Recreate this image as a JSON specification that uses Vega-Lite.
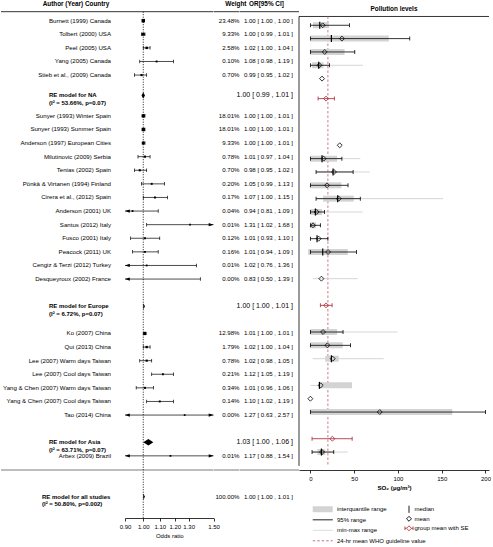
{
 "$schema": "https://vega.github.io/schema/vega-lite/v6.json",
 "padding": 0,
 "spacing": 0,
 "bounds": "flush",
 "config": {
  "view": {"stroke": null},
  "font": "Liberation Sans",
  "text": {"color": "black", "font": "Liberation Sans"},
  "axis": {"labelFont": "Liberation Sans", "titleFont": "Liberation Sans", "labelColor": "black", "titleColor": "black", "domainColor": "black", "tickColor": "black", "grid": false, "labelFontSize": 6, "titleFontSize": 6, "titleFontWeight": "normal", "tickSize": 3, "labelPadding": 2, "titlePadding": 3, "domainWidth": 0.8, "tickWidth": 0.8},
  "legend": {"labelFont": "Liberation Sans", "labelColor": "black", "labelFontSize": 6}
 },
 "datasets": {
  "one": [{}],
  "forest": [
   {"study": "Burnett (1999) Canada", "type": "study", "row": 1, "w": 23.48, "est": 1.00, "lo": 1.00, "hi": 1.00},
   {"study": "Tolbert (2000) USA", "type": "study", "row": 2, "w": 9.33, "est": 1.00, "lo": 0.99, "hi": 1.01},
   {"study": "Peel (2005) USA", "type": "study", "row": 3, "w": 2.58, "est": 1.02, "lo": 1.00, "hi": 1.04},
   {"study": "Yang (2005) Canada", "type": "study", "row": 4, "w": 0.10, "est": 1.08, "lo": 0.98, "hi": 1.19},
   {"study": "Stieb et al., (2009) Canada", "type": "study", "row": 5, "w": 0.70, "est": 0.99, "lo": 0.95, "hi": 1.02},
   {"study": "RE model for NA", "type": "re", "row": 6.5, "i2": "53.66", "p": "0.07", "est": 1.00, "lo": 0.99, "hi": 1.01},
   {"study": "Sunyer (1993) Winter Spain", "type": "study", "row": 8, "w": 18.01, "est": 1.00, "lo": 1.00, "hi": 1.01},
   {"study": "Sunyer (1993) Summer Spain", "type": "study", "row": 9, "w": 18.01, "est": 1.00, "lo": 1.00, "hi": 1.01},
   {"study": "Anderson (1997) European Cities", "type": "study", "row": 10, "w": 9.33, "est": 1.00, "lo": 1.00, "hi": 1.01},
   {"study": "Milutinovic (2009) Serbia", "type": "study", "row": 11, "w": 0.78, "est": 1.01, "lo": 0.97, "hi": 1.04},
   {"study": "Tenias (2002) Spain", "type": "study", "row": 12, "w": 0.70, "est": 0.98, "lo": 0.95, "hi": 1.02},
   {"study": "Pönkä & Virtanen (1994) Finland", "type": "study", "row": 13, "w": 0.20, "est": 1.05, "lo": 0.99, "hi": 1.13},
   {"study": "Cirera et al., (2012) Spain", "type": "study", "row": 14, "w": 0.17, "est": 1.07, "lo": 1.00, "hi": 1.15},
   {"study": "Anderson (2001) UK", "type": "study", "row": 15, "w": 0.04, "est": 0.94, "lo": 0.81, "hi": 1.09},
   {"study": "Santus (2012) Italy", "type": "study", "row": 16, "w": 0.01, "est": 1.31, "lo": 1.02, "hi": 1.68},
   {"study": "Fusco (2001) Italy", "type": "study", "row": 17, "w": 0.12, "est": 1.01, "lo": 0.93, "hi": 1.10},
   {"study": "Peacock (2011) UK", "type": "study", "row": 18, "w": 0.16, "est": 1.01, "lo": 0.94, "hi": 1.09},
   {"study": "Cengiz & Terzi (2012) Turkey", "type": "study", "row": 19, "w": 0.01, "est": 1.02, "lo": 0.76, "hi": 1.36},
   {"study": "Desqueyroux (2002) France", "type": "study", "row": 20, "w": 0.00, "est": 0.83, "lo": 0.50, "hi": 1.39},
   {"study": "RE model for Europe", "type": "re", "row": 22, "i2": "6.72", "p": "0.07", "est": 1.00, "lo": 1.00, "hi": 1.01},
   {"study": "Ko (2007) China", "type": "study", "row": 24, "w": 12.98, "est": 1.01, "lo": 1.00, "hi": 1.01},
   {"study": "Qui (2013) China", "type": "study", "row": 25, "w": 1.79, "est": 1.02, "lo": 1.00, "hi": 1.04},
   {"study": "Lee (2007) Warm days Taiwan", "type": "study", "row": 26, "w": 0.78, "est": 1.02, "lo": 0.98, "hi": 1.05},
   {"study": "Lee (2007) Cool days Taiwan", "type": "study", "row": 27, "w": 0.21, "est": 1.12, "lo": 1.05, "hi": 1.19},
   {"study": "Yang & Chen (2007) Warm days Taiwan", "type": "study", "row": 28, "w": 0.34, "est": 1.01, "lo": 0.96, "hi": 1.06},
   {"study": "Yang & Chen (2007) Cool days Taiwan", "type": "study", "row": 29, "w": 0.14, "est": 1.10, "lo": 1.02, "hi": 1.19},
   {"study": "Tao (2014) China", "type": "study", "row": 30, "w": 0.00, "est": 1.27, "lo": 0.63, "hi": 2.57},
   {"study": "RE model for Asia", "type": "re", "row": 32, "i2": "63.71", "p": "0.07", "est": 1.03, "lo": 1.00, "hi": 1.06},
   {"study": "Arbex (2009) Brazil", "type": "study", "row": 33, "w": 0.01, "est": 1.17, "lo": 0.88, "hi": 1.54},
   {"study": "RE model for all studies", "type": "all", "row": 36, "w": 100, "i2": "50.80", "p": "0.002", "est": 1.00, "lo": 1.00, "hi": 1.01}
  ],
  "poll": [
   {"study": "Burnett", "row": 1, "q1": 3, "q3": 21, "plo": 0, "phi": 44.6, "med": 10.7, "mean": 14.1},
   {"study": "Tolbert", "row": 2, "q1": 0, "q3": 89.5, "plo": 0, "phi": 113.5, "med": 24, "mean": 36},
   {"study": "Peel", "row": 3, "q1": 0, "q3": 39, "plo": 0, "phi": 50.7, "mean": 16.4},
   {"study": "Yang", "row": 4, "q1": 2, "q3": 15, "plo": 0, "phi": 21.7, "mn": 0, "mx": 60, "med": 9.5, "mean": 10.3},
   {"study": "Stieb", "row": 5, "mean": 13.3},
   {"study": "Anderson 1997", "row": 10, "mean": 33.5},
   {"study": "Milutinovic", "row": 11, "q1": 0, "q3": 30.5, "plo": 0, "phi": 36, "mn": 0, "mx": 57, "med": 13.3, "mean": 15.2},
   {"study": "Tenias", "row": 12, "plo": 6.5, "phi": 48.8, "mn": 6.5, "mx": 67.8, "med": 25.9, "mean": 27},
   {"study": "Ponka", "row": 13, "q1": 0, "q3": 35.4, "plo": 0, "phi": 43, "mean": 19},
   {"study": "Cirera", "row": 14, "q1": 14.5, "q3": 49.5, "plo": 6.5, "phi": 57, "mn": 6.5, "mx": 151.6, "med": 31.2, "mean": 32.4},
   {"study": "Anderson 2001", "row": 15, "q1": 0, "q3": 13.3, "plo": 0, "phi": 16, "mn": 0, "mx": 59.8, "med": 5.7, "mean": 7.2},
   {"study": "Santus", "row": 16, "q1": 0, "q3": 6.5, "plo": 0, "phi": 11.4, "mean": 3},
   {"study": "Fusco", "row": 17, "plo": 0, "phi": 20, "med": 7.6, "mean": 9.5},
   {"study": "Peacock", "row": 18, "q1": -2.5, "q3": 42.7, "plo": 0, "phi": 52.6, "med": 14.1, "mean": 20.2},
   {"study": "Desqueyroux", "row": 20, "mn": 2.7, "mx": 54, "mean": 12.6},
   {"study": "Ko", "row": 24, "q1": 0, "q3": 30.5, "plo": 0, "phi": 37.3, "mn": 0, "mx": 99.4, "mean": 14.5},
   {"study": "Qui", "row": 25, "q1": 0, "q3": 37, "plo": 0, "phi": 45.7, "mean": 19.4},
   {"study": "Lee warm", "row": 26, "q1": 17, "q3": 32.4, "mn": 2.7, "mx": 83.8, "med": 24, "mean": 25.5},
   {"study": "Yang & Chen warm", "row": 28, "q1": 10.3, "q3": 47.6, "mn": 0, "mx": 47.6, "med": 10.3, "mean": 11.8},
   {"study": "Yang & Chen cool", "row": 29, "mean": 0},
   {"study": "Tao", "row": 30, "q1": 0, "q3": 162, "plo": 0, "phi": 200, "mean": 79.2},
   {"study": "Arbex", "row": 33, "q1": 8, "q3": 17, "plo": 1.9, "phi": 26.7, "mn": 1.9, "mx": 42.7, "med": 12.6, "mean": 13.3}
  ],
  "grp": [
   {"group": "NA", "row": 6.5, "mean": 17.9, "selo": 8.8, "sehi": 27.4},
   {"group": "Europe", "row": 22, "mean": 17.9, "selo": 11.4, "sehi": 24.8},
   {"group": "Asia", "row": 32, "mean": 25.1, "selo": 1.9, "sehi": 47.7}
  ]
 },
 "hconcat": [
  {"width": 48, "height": 518, "layer": [
   {"data": {"name": "one"}, "mark": {"type": "rule", "color": "black", "strokeWidth": 0.8}, "encoding": {"y": {"datum": 0.34, "type": "quantitative", "scale": {"domain": [-0.52, 37.57], "reverse": true, "nice": false, "zero": false}, "axis": null}}},
   {"data": {"name": "one"}, "mark": {"type": "rule", "color": "#bdbdbd", "strokeWidth": 2}, "encoding": {"y": {"datum": 34.04, "type": "quantitative", "scale": {"domain": [-0.52, 37.57], "reverse": true, "nice": false, "zero": false}, "axis": null}}}
  ]},
  {"width": 62, "height": 518, "layer": [
   {"data": {"name": "one"}, "mark": {"type": "rule", "color": "black", "strokeWidth": 0.8}, "encoding": {"y": {"datum": 0.34, "type": "quantitative", "scale": {"domain": [-0.52, 37.57], "reverse": true, "nice": false, "zero": false}, "axis": null}}},
   {"data": {"name": "one"}, "mark": {"type": "rule", "color": "#bdbdbd", "strokeWidth": 2}, "encoding": {"y": {"datum": 34.04, "type": "quantitative", "scale": {"domain": [-0.52, 37.57], "reverse": true, "nice": false, "zero": false}, "axis": null}}},
   {"data": {"name": "one"}, "mark": {"type": "text", "fontWeight": "bold", "fontSize": 6.4, "baseline": "middle", "dx": -4}, "encoding": {"y": {"datum": -0.23, "type": "quantitative", "scale": {"domain": [-0.52, 37.57], "reverse": true, "nice": false, "zero": false}, "axis": null}, "text": {"value": "Author (Year) Country"}}},
   {"data": {"name": "forest"}, "transform": [{"filter": "datum.type === 'study'"}], "mark": {"type": "text", "align": "right", "baseline": "middle", "fontSize": 6.1}, "encoding": {"x": {"value": "width"}, "y": {"field": "row", "type": "quantitative", "scale": {"domain": [-0.52, 37.57], "reverse": true, "nice": false, "zero": false}, "axis": null}, "text": {"field": "study", "type": "nominal"}}},
   {"data": {"name": "forest"}, "transform": [{"filter": "datum.type === 're'"}, {"calculate": "datum.study + '\\n(I² = ' + datum.i2 + '%, p=' + datum.p + ')'", "as": "label"}], "mark": {"type": "text", "align": "left", "baseline": "middle", "fontSize": 6, "fontWeight": "bold", "lineBreak": "\n", "lineHeight": 7.4}, "encoding": {"x": {"value": 0}, "y": {"field": "row", "type": "quantitative", "scale": {"domain": [-0.52, 37.57], "reverse": true, "nice": false, "zero": false}, "axis": null}, "text": {"field": "label", "type": "nominal"}}},
   {"data": {"name": "forest"}, "transform": [{"filter": "datum.type === 'all'"}, {"calculate": "datum.study + '\\n(I² = ' + datum.i2 + '%, p=' + datum.p + ')'", "as": "label"}], "mark": {"type": "text", "align": "left", "baseline": "middle", "fontSize": 6, "fontWeight": "bold", "lineBreak": "\n", "lineHeight": 7.4, "dx": -7}, "encoding": {"x": {"value": 0}, "y": {"field": "row", "type": "quantitative", "scale": {"domain": [-0.52, 37.57], "reverse": true, "nice": false, "zero": false}, "axis": null}, "text": {"field": "label", "type": "nominal"}}}
  ]},
  {"width": 14, "height": 518, "layer": [
   {"data": {"name": "one"}, "mark": {"type": "rule", "color": "black", "strokeWidth": 0.8}, "encoding": {"y": {"datum": 0.34, "type": "quantitative", "scale": {"domain": [-0.52, 37.57], "reverse": true, "nice": false, "zero": false}, "axis": null}}},
   {"data": {"name": "one"}, "mark": {"type": "rule", "color": "#bdbdbd", "strokeWidth": 2}, "encoding": {"y": {"datum": 34.04, "type": "quantitative", "scale": {"domain": [-0.52, 37.57], "reverse": true, "nice": false, "zero": false}, "axis": null}}}
  ]},
  {"width": 88.5, "height": 518, "layer": [
   {"data": {"name": "one"}, "mark": {"type": "rule", "color": "black", "strokeWidth": 0.8}, "encoding": {"y": {"datum": 0.34, "type": "quantitative", "scale": {"domain": [-0.52, 37.57], "reverse": true, "nice": false, "zero": false}, "axis": null}}},
   {"data": {"name": "one"}, "mark": {"type": "rule", "color": "#bdbdbd", "strokeWidth": 2}, "encoding": {"y": {"datum": 34.04, "type": "quantitative", "scale": {"domain": [-0.52, 37.57], "reverse": true, "nice": false, "zero": false}, "axis": null}}},
   {"data": {"name": "one"}, "mark": {"type": "rule", "color": "black", "strokeWidth": 0.9, "strokeDash": [1, 1.5]}, "encoding": {"x": {"datum": 1, "type": "quantitative", "scale": {"type": "log", "domain": [0.9, 1.5], "clamp": true, "nice": false, "zero": false}, "axis": {"values": [0.9, 1, 1.1, 1.2, 1.3, 1.5], "format": ".2f", "title": "Odds ratio", "labelFlush": false, "labelOverlap": false}}, "y": {"datum": 0.34, "type": "quantitative", "scale": {"domain": [-0.52, 37.57], "reverse": true, "nice": false, "zero": false}, "axis": null}, "y2": {"datum": 37.57}}},
   {"data": {"name": "forest"}, "transform": [{"filter": "datum.type === 'study'"}], "mark": {"type": "rule", "color": "black", "strokeWidth": 0.7}, "encoding": {"x": {"field": "lo", "type": "quantitative", "scale": {"type": "log", "domain": [0.9, 1.5], "clamp": true, "nice": false, "zero": false}, "axis": {"values": [0.9, 1, 1.1, 1.2, 1.3, 1.5], "format": ".2f", "title": "Odds ratio", "labelFlush": false, "labelOverlap": false}}, "x2": {"field": "hi"}, "y": {"field": "row", "type": "quantitative", "scale": {"domain": [-0.52, 37.57], "reverse": true, "nice": false, "zero": false}, "axis": null}}},
   {"data": {"name": "forest"}, "transform": [{"filter": "datum.type === 'study'"}, {"fold": ["lo", "hi"], "as": ["k", "v"]}, {"filter": "datum.v >= 0.9 && datum.v <= 1.5"}], "mark": {"type": "tick", "orient": "vertical", "size": 3.5, "thickness": 0.7, "color": "black", "opacity": 1}, "encoding": {"x": {"field": "v", "type": "quantitative", "scale": {"type": "log", "domain": [0.9, 1.5], "clamp": true, "nice": false, "zero": false}, "axis": {"values": [0.9, 1, 1.1, 1.2, 1.3, 1.5], "format": ".2f", "title": "Odds ratio", "labelFlush": false, "labelOverlap": false}}, "y": {"field": "row", "type": "quantitative", "scale": {"domain": [-0.52, 37.57], "reverse": true, "nice": false, "zero": false}, "axis": null}}},
   {"data": {"name": "forest"}, "transform": [{"filter": "datum.type === 'study' && datum.lo < 0.9"}], "mark": {"type": "point", "shape": "M0,0L2.4,-0.8L2.4,0.8Z", "size": 16, "filled": true, "color": "black", "opacity": 1}, "encoding": {"x": {"field": "lo", "type": "quantitative", "scale": {"type": "log", "domain": [0.9, 1.5], "clamp": true, "nice": false, "zero": false}, "axis": {"values": [0.9, 1, 1.1, 1.2, 1.3, 1.5], "format": ".2f", "title": "Odds ratio", "labelFlush": false, "labelOverlap": false}}, "y": {"field": "row", "type": "quantitative", "scale": {"domain": [-0.52, 37.57], "reverse": true, "nice": false, "zero": false}, "axis": null}}},
   {"data": {"name": "forest"}, "transform": [{"filter": "datum.type === 'study' && datum.hi > 1.5"}], "mark": {"type": "point", "shape": "M0,0L-2.4,-0.8L-2.4,0.8Z", "size": 16, "filled": true, "color": "black", "opacity": 1}, "encoding": {"x": {"field": "hi", "type": "quantitative", "scale": {"type": "log", "domain": [0.9, 1.5], "clamp": true, "nice": false, "zero": false}, "axis": {"values": [0.9, 1, 1.1, 1.2, 1.3, 1.5], "format": ".2f", "title": "Odds ratio", "labelFlush": false, "labelOverlap": false}}, "y": {"field": "row", "type": "quantitative", "scale": {"domain": [-0.52, 37.57], "reverse": true, "nice": false, "zero": false}, "axis": null}}},
   {"data": {"name": "forest"}, "transform": [{"filter": "datum.type === 'study' && datum.est >= 0.9 && datum.est <= 1.5"}], "mark": {"type": "point", "shape": "square", "filled": true, "color": "black", "opacity": 1}, "encoding": {"x": {"field": "est", "type": "quantitative", "scale": {"type": "log", "domain": [0.9, 1.5], "clamp": true, "nice": false, "zero": false}, "axis": {"values": [0.9, 1, 1.1, 1.2, 1.3, 1.5], "format": ".2f", "title": "Odds ratio", "labelFlush": false, "labelOverlap": false}}, "y": {"field": "row", "type": "quantitative", "scale": {"domain": [-0.52, 37.57], "reverse": true, "nice": false, "zero": false}, "axis": null}, "size": {"field": "w", "type": "quantitative", "scale": {"type": "sqrt", "domain": [0, 23.48], "range": [3, 12]}, "legend": null}}},
   {"data": {"name": "forest"}, "transform": [{"filter": "datum.type !== 'study'"}, {"fold": ["lo", "est", "hi"], "as": ["k", "v"]}, {"calculate": "datum.k === 'est' ? datum.row - 0.23 : datum.row", "as": "yt"}, {"calculate": "datum.k === 'est' ? datum.row + 0.23 : datum.row", "as": "yb"}], "mark": {"type": "area", "orient": "vertical", "color": "black", "opacity": 1}, "encoding": {"x": {"field": "v", "type": "quantitative", "scale": {"type": "log", "domain": [0.9, 1.5], "clamp": true, "nice": false, "zero": false}, "axis": {"values": [0.9, 1, 1.1, 1.2, 1.3, 1.5], "format": ".2f", "title": "Odds ratio", "labelFlush": false, "labelOverlap": false}}, "y": {"field": "yt", "type": "quantitative", "stack": null, "scale": {"domain": [-0.52, 37.57], "reverse": true, "nice": false, "zero": false}, "axis": null}, "y2": {"field": "yb"}, "detail": {"field": "study", "type": "nominal"}}}
  ]},
  {"width": 25.5, "height": 518, "layer": [
   {"data": {"name": "one"}, "mark": {"type": "rule", "color": "black", "strokeWidth": 0.8}, "encoding": {"y": {"datum": 0.34, "type": "quantitative", "scale": {"domain": [-0.52, 37.57], "reverse": true, "nice": false, "zero": false}, "axis": null}}},
   {"data": {"name": "one"}, "mark": {"type": "rule", "color": "#bdbdbd", "strokeWidth": 2}, "encoding": {"y": {"datum": 34.04, "type": "quantitative", "scale": {"domain": [-0.52, 37.57], "reverse": true, "nice": false, "zero": false}, "axis": null}}},
   {"data": {"name": "one"}, "mark": {"type": "text", "fontWeight": "bold", "fontSize": 6.4, "baseline": "middle", "align": "right", "dx": 7}, "encoding": {"x": {"value": "width"}, "y": {"datum": -0.23, "type": "quantitative", "scale": {"domain": [-0.52, 37.57], "reverse": true, "nice": false, "zero": false}, "axis": null}, "text": {"value": "Weight"}}},
   {"data": {"name": "forest"}, "transform": [{"filter": "datum.type !== 're'"}, {"calculate": "format(datum.w, '.2f') + '%'", "as": "wt"}], "mark": {"type": "text", "align": "right", "baseline": "middle", "fontSize": 6.1}, "encoding": {"x": {"value": "width"}, "y": {"field": "row", "type": "quantitative", "scale": {"domain": [-0.52, 37.57], "reverse": true, "nice": false, "zero": false}, "axis": null}, "text": {"field": "wt", "type": "nominal"}}}
  ]},
  {"width": 53, "height": 518, "layer": [
   {"data": {"name": "one"}, "mark": {"type": "rule", "color": "black", "strokeWidth": 0.8}, "encoding": {"y": {"datum": 0.34, "type": "quantitative", "scale": {"domain": [-0.52, 37.57], "reverse": true, "nice": false, "zero": false}, "axis": null}}},
   {"data": {"name": "one"}, "mark": {"type": "rule", "color": "#bdbdbd", "strokeWidth": 2}, "encoding": {"y": {"datum": 34.04, "type": "quantitative", "scale": {"domain": [-0.52, 37.57], "reverse": true, "nice": false, "zero": false}, "axis": null}}},
   {"data": {"name": "one"}, "mark": {"type": "text", "fontWeight": "bold", "fontSize": 6.4, "baseline": "middle"}, "encoding": {"y": {"datum": -0.23, "type": "quantitative", "scale": {"domain": [-0.52, 37.57], "reverse": true, "nice": false, "zero": false}, "axis": null}, "text": {"value": "OR[95% CI]"}}},
   {"data": {"name": "forest"}, "transform": [{"filter": "datum.type !== 're'"}, {"calculate": "format(datum.est, '.2f') + ' [ ' + format(datum.lo, '.2f') + ' , ' + format(datum.hi, '.2f') + ' ]'", "as": "ci"}], "mark": {"type": "text", "align": "right", "baseline": "middle", "fontSize": 6.1}, "encoding": {"x": {"value": "width"}, "y": {"field": "row", "type": "quantitative", "scale": {"domain": [-0.52, 37.57], "reverse": true, "nice": false, "zero": false}, "axis": null}, "text": {"field": "ci", "type": "nominal"}}},
   {"data": {"name": "forest"}, "transform": [{"filter": "datum.type === 're'"}, {"calculate": "format(datum.est, '.2f') + ' [ ' + format(datum.lo, '.2f') + ' , ' + format(datum.hi, '.2f') + ' ]'", "as": "ci"}], "mark": {"type": "text", "align": "right", "baseline": "middle", "fontSize": 7}, "encoding": {"x": {"value": "width"}, "y": {"field": "row", "type": "quantitative", "scale": {"domain": [-0.52, 37.57], "reverse": true, "nice": false, "zero": false}, "axis": null}, "text": {"field": "ci", "type": "nominal"}}}
  ]},
  {"width": 6, "height": 518, "layer": [
   {"data": {"name": "one"}, "mark": {"type": "rule", "color": "black", "strokeWidth": 0.8}, "encoding": {"y": {"datum": 0.34, "type": "quantitative", "scale": {"domain": [-0.52, 37.57], "reverse": true, "nice": false, "zero": false}, "axis": null}}},
   {"data": {"name": "one"}, "mark": {"type": "rule", "color": "#bdbdbd", "strokeWidth": 2}, "encoding": {"y": {"datum": 34.04, "type": "quantitative", "scale": {"domain": [-0.52, 37.57], "reverse": true, "nice": false, "zero": false}, "axis": null}}}
  ]},
  {"width": 190, "height": 518, "layer": [
   {"data": {"name": "one"}, "mark": {"type": "rule", "color": "black", "strokeWidth": 0.8}, "encoding": {"y": {"datum": 0.34, "type": "quantitative", "scale": {"domain": [-0.52, 37.57], "reverse": true, "nice": false, "zero": false}, "axis": null}}},
   {"data": {"name": "one"}, "mark": {"type": "rule", "color": "black", "strokeWidth": 0.8}, "encoding": {"x": {"datum": -13, "type": "quantitative", "scale": {"domain": [-13, 204], "nice": false, "zero": false}, "axis": {"values": [0, 50, 100, 150, 200], "title": "SO₂ (µg/m³)", "titleFontWeight": "bold", "titleFontSize": 6.2, "offset": -48, "labelFlush": false}}, "y": {"datum": 0.34, "type": "quantitative", "scale": {"domain": [-0.52, 37.57], "reverse": true, "nice": false, "zero": false}, "axis": null}, "y2": {"datum": 34.04}}},
   {"data": {"name": "one"}, "mark": {"type": "rule", "strokeWidth": 0.9}, "encoding": {"x": {"datum": 20, "type": "quantitative", "scale": {"domain": [-13, 204], "nice": false, "zero": false}, "axis": {"values": [0, 50, 100, 150, 200], "title": "SO₂ (µg/m³)", "titleFontWeight": "bold", "titleFontSize": 6.2, "offset": -48, "labelFlush": false}}, "y": {"datum": 0.34, "type": "quantitative", "scale": {"domain": [-0.52, 37.57], "reverse": true, "nice": false, "zero": false}, "axis": null}, "y2": {"datum": 34.04},
     "color": {"datum": "24-hr mean WHO guideline value", "type": "nominal", "scale": {"domain": ["95% range", "min-max range", "24-hr mean WHO guideline value"], "range": ["#000000", "#d6d6d6", "#c4717a"]}, "legend": {"orient": "none", "direction": "vertical", "legendX": 311.2, "legendY": 514.8, "title": null, "symbolType": "M-1,0H3", "symbolSize": 100, "symbolStrokeWidth": 1, "clipHeight": 10, "labelOffset": 13.8, "rowPadding": 0.5, "padding": 0, "labelFontSize": 6}},
     "strokeDash": {"datum": "24-hr mean WHO guideline value", "type": "nominal", "scale": {"domain": ["95% range", "min-max range", "24-hr mean WHO guideline value"], "range": [[1, 0], [1, 0], [2.5, 2]]}, "legend": {"orient": "none", "direction": "vertical", "legendX": 311.2, "legendY": 514.8, "title": null, "symbolType": "M-1,0H3", "symbolSize": 100, "symbolStrokeWidth": 1, "clipHeight": 10, "labelOffset": 13.8, "rowPadding": 0.5, "padding": 0, "labelFontSize": 6}}}},
   {"data": {"name": "poll"}, "transform": [{"filter": "isValid(datum.mn)"}], "mark": {"type": "rule", "strokeWidth": 1}, "encoding": {"x": {"field": "mn", "type": "quantitative", "scale": {"domain": [-13, 204], "nice": false, "zero": false}, "axis": {"values": [0, 50, 100, 150, 200], "title": "SO₂ (µg/m³)", "titleFontWeight": "bold", "titleFontSize": 6.2, "offset": -48, "labelFlush": false}}, "x2": {"field": "mx"}, "y": {"field": "row", "type": "quantitative", "scale": {"domain": [-0.52, 37.57], "reverse": true, "nice": false, "zero": false}, "axis": null}, "color": {"datum": "min-max range", "type": "nominal", "legend": null}}},
   {"data": {"name": "poll"}, "transform": [{"filter": "isValid(datum.q1)"}], "mark": {"type": "bar", "size": 6}, "encoding": {"x": {"field": "q1", "type": "quantitative", "scale": {"domain": [-13, 204], "nice": false, "zero": false}, "axis": {"values": [0, 50, 100, 150, 200], "title": "SO₂ (µg/m³)", "titleFontWeight": "bold", "titleFontSize": 6.2, "offset": -48, "labelFlush": false}}, "x2": {"field": "q3"}, "y": {"field": "row", "type": "quantitative", "scale": {"domain": [-0.52, 37.57], "reverse": true, "nice": false, "zero": false}, "axis": null},
     "fill": {"datum": "interquantile range", "type": "nominal", "scale": {"domain": ["interquantile range"], "range": ["#d3d3d3"]}, "legend": {"orient": "none", "direction": "vertical", "legendX": 311.2, "legendY": 504.3, "title": null, "symbolType": "M-1,-0.6H3V0.6H-1Z", "symbolSize": 100, "symbolStrokeWidth": 1, "clipHeight": 10, "labelOffset": 13.8, "rowPadding": 0.5, "padding": 0, "labelFontSize": 6}}}},
   {"data": {"name": "poll"}, "transform": [{"filter": "isValid(datum.plo)"}], "mark": {"type": "rule", "strokeWidth": 0.8}, "encoding": {"x": {"field": "plo", "type": "quantitative", "scale": {"domain": [-13, 204], "nice": false, "zero": false}, "axis": {"values": [0, 50, 100, 150, 200], "title": "SO₂ (µg/m³)", "titleFontWeight": "bold", "titleFontSize": 6.2, "offset": -48, "labelFlush": false}}, "x2": {"field": "phi"}, "y": {"field": "row", "type": "quantitative", "scale": {"domain": [-0.52, 37.57], "reverse": true, "nice": false, "zero": false}, "axis": null}, "color": {"datum": "95% range", "type": "nominal", "legend": null}}},
   {"data": {"name": "poll"}, "transform": [{"filter": "isValid(datum.plo)"}, {"fold": ["plo", "phi"], "as": ["k", "v"]}], "mark": {"type": "tick", "orient": "vertical", "size": 4, "thickness": 0.8, "color": "black", "opacity": 1}, "encoding": {"x": {"field": "v", "type": "quantitative", "scale": {"domain": [-13, 204], "nice": false, "zero": false}, "axis": {"values": [0, 50, 100, 150, 200], "title": "SO₂ (µg/m³)", "titleFontWeight": "bold", "titleFontSize": 6.2, "offset": -48, "labelFlush": false}}, "y": {"field": "row", "type": "quantitative", "scale": {"domain": [-0.52, 37.57], "reverse": true, "nice": false, "zero": false}, "axis": null}}},
   {"data": {"name": "poll"}, "transform": [{"filter": "isValid(datum.med)"}], "mark": {"type": "tick", "orient": "vertical", "size": 7, "thickness": 1.2, "color": "black", "opacity": 1}, "encoding": {"x": {"field": "med", "type": "quantitative", "scale": {"domain": [-13, 204], "nice": false, "zero": false}, "axis": {"values": [0, 50, 100, 150, 200], "title": "SO₂ (µg/m³)", "titleFontWeight": "bold", "titleFontSize": 6.2, "offset": -48, "labelFlush": false}}, "y": {"field": "row", "type": "quantitative", "scale": {"domain": [-0.52, 37.57], "reverse": true, "nice": false, "zero": false}, "axis": null}}},
   {"data": {"name": "poll"}, "transform": [{"filter": "isValid(datum.mean)"}], "mark": {"type": "point", "filled": false, "strokeWidth": 0.8, "size": 81, "opacity": 1}, "encoding": {"x": {"field": "mean", "type": "quantitative", "scale": {"domain": [-13, 204], "nice": false, "zero": false}, "axis": {"values": [0, 50, 100, 150, 200], "title": "SO₂ (µg/m³)", "titleFontWeight": "bold", "titleFontSize": 6.2, "offset": -48, "labelFlush": false}}, "y": {"field": "row", "type": "quantitative", "scale": {"domain": [-0.52, 37.57], "reverse": true, "nice": false, "zero": false}, "axis": null},
     "shape": {"datum": "mean", "type": "nominal", "scale": {"domain": ["median", "mean", "group mean with SE"], "range": ["M0,-0.8V0.8", "M0,-0.55L0.55,0L0,0.55L-0.55,0Z", "M-0.9,0H-0.55M0.55,0H0.9M-0.9,-0.4V0.4M0.9,-0.4V0.4M0,-0.55L0.55,0L0,0.55L-0.55,0Z"]}, "legend": {"orient": "none", "direction": "vertical", "legendX": 403, "legendY": 504.8, "title": null, "symbolSize": 81, "symbolStrokeWidth": 0.9, "clipHeight": 9, "labelOffset": 0.5, "rowPadding": 0.5, "padding": 0, "labelFontSize": 6}},
     "stroke": {"datum": "mean", "type": "nominal", "scale": {"domain": ["median", "mean", "group mean with SE"], "range": ["#000000", "#000000", "#b03a48"]}, "legend": {"orient": "none", "direction": "vertical", "legendX": 403, "legendY": 504.8, "title": null, "symbolSize": 81, "symbolStrokeWidth": 0.9, "clipHeight": 9, "labelOffset": 0.5, "rowPadding": 0.5, "padding": 0, "labelFontSize": 6}}}},
   {"data": {"name": "grp"}, "mark": {"type": "rule", "color": "#b03a48", "strokeWidth": 0.9}, "encoding": {"x": {"field": "selo", "type": "quantitative", "scale": {"domain": [-13, 204], "nice": false, "zero": false}, "axis": {"values": [0, 50, 100, 150, 200], "title": "SO₂ (µg/m³)", "titleFontWeight": "bold", "titleFontSize": 6.2, "offset": -48, "labelFlush": false}}, "x2": {"field": "sehi"}, "y": {"field": "row", "type": "quantitative", "scale": {"domain": [-0.52, 37.57], "reverse": true, "nice": false, "zero": false}, "axis": null}}},
   {"data": {"name": "grp"}, "transform": [{"fold": ["selo", "sehi"], "as": ["k", "v"]}], "mark": {"type": "tick", "orient": "vertical", "size": 4, "thickness": 0.9, "color": "#b03a48", "opacity": 1}, "encoding": {"x": {"field": "v", "type": "quantitative", "scale": {"domain": [-13, 204], "nice": false, "zero": false}, "axis": {"values": [0, 50, 100, 150, 200], "title": "SO₂ (µg/m³)", "titleFontWeight": "bold", "titleFontSize": 6.2, "offset": -48, "labelFlush": false}}, "y": {"field": "row", "type": "quantitative", "scale": {"domain": [-0.52, 37.57], "reverse": true, "nice": false, "zero": false}, "axis": null}}},
   {"data": {"name": "grp"}, "mark": {"type": "point", "shape": "M0,-0.55L0.55,0L0,0.55L-0.55,0Z", "filled": false, "color": "#b03a48", "strokeWidth": 0.9, "size": 81, "opacity": 1}, "encoding": {"x": {"field": "mean", "type": "quantitative", "scale": {"domain": [-13, 204], "nice": false, "zero": false}, "axis": {"values": [0, 50, 100, 150, 200], "title": "SO₂ (µg/m³)", "titleFontWeight": "bold", "titleFontSize": 6.2, "offset": -48, "labelFlush": false}}, "y": {"field": "row", "type": "quantitative", "scale": {"domain": [-0.52, 37.57], "reverse": true, "nice": false, "zero": false}, "axis": null}}},
   {"data": {"name": "one"}, "mark": {"type": "text", "fontWeight": "bold", "fontSize": 6.4, "baseline": "middle"}, "encoding": {"y": {"datum": -0.23, "type": "quantitative", "scale": {"domain": [-0.52, 37.57], "reverse": true, "nice": false, "zero": false}, "axis": null}, "text": {"value": "Pollution levels"}}}
  ]}
 ]
}
